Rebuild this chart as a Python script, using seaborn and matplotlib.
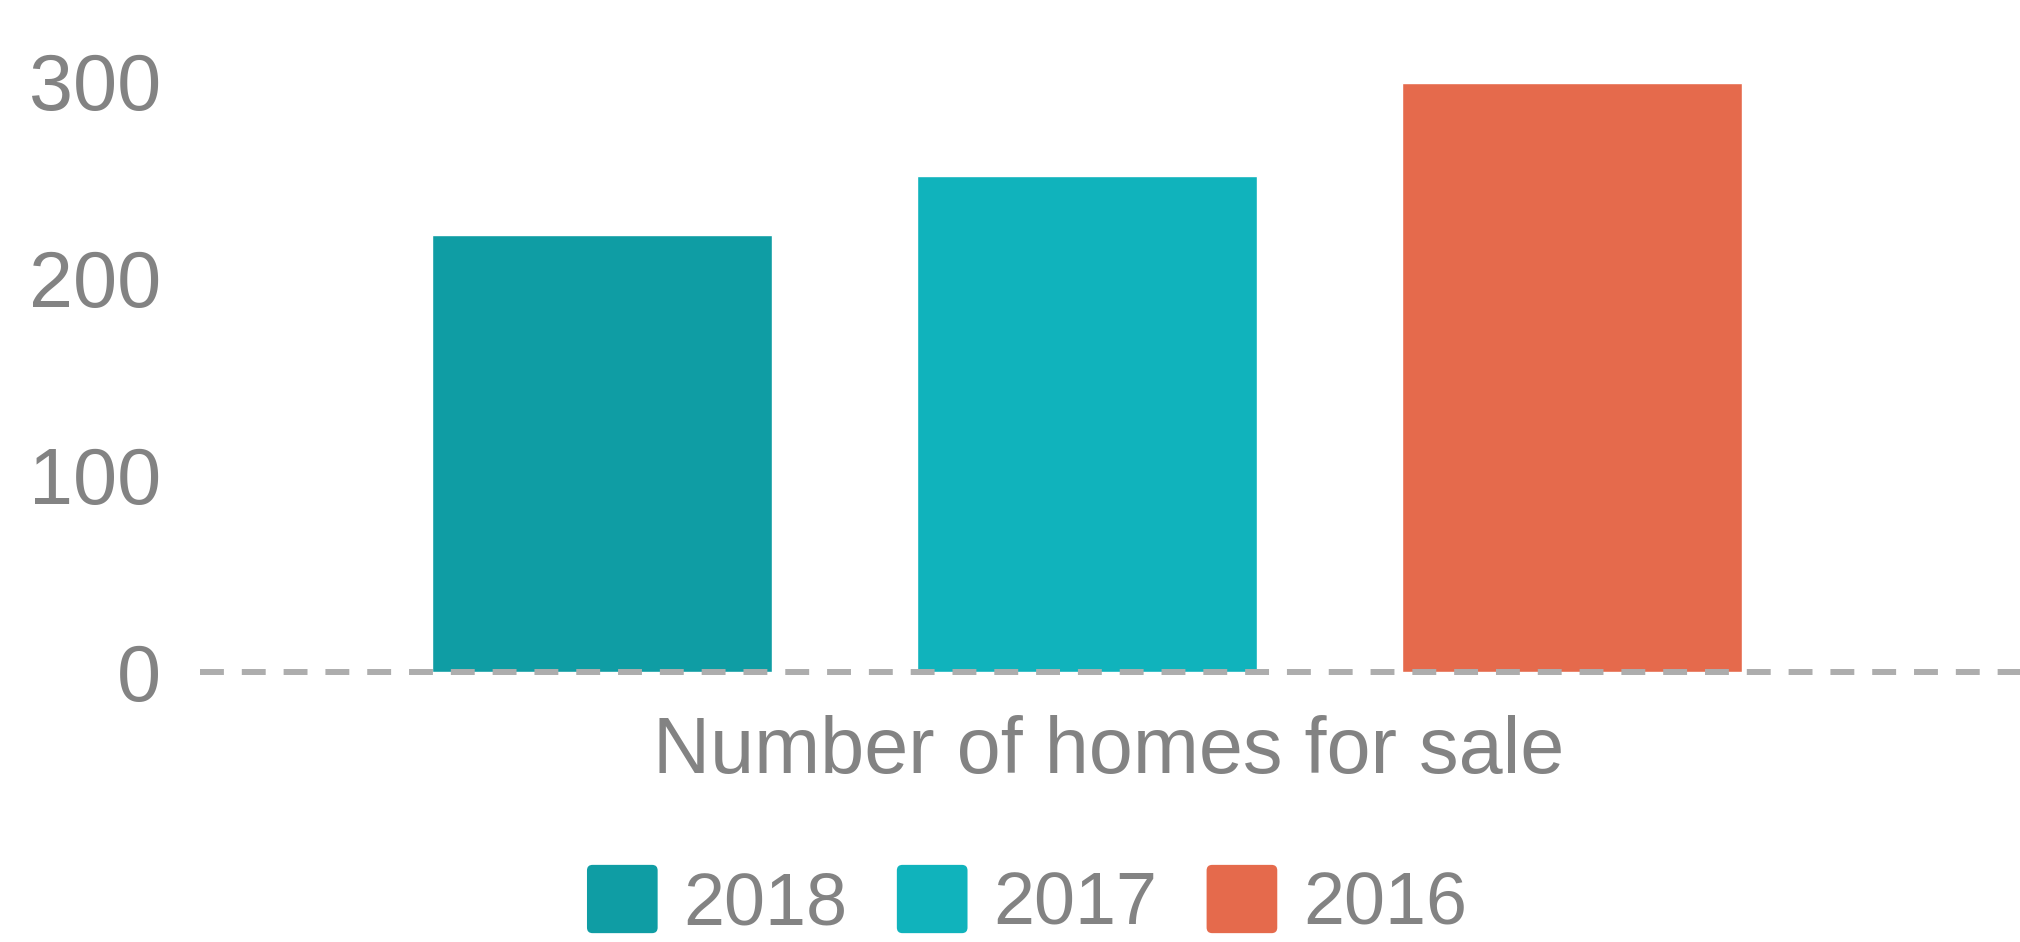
import pandas as pd
import matplotlib.pyplot as plt
import seaborn as sns
from matplotlib.legend_handler import HandlerPatch
from matplotlib.patches import FancyBboxPatch

# data
years = ['2018', '2017', '2016']
homes = [222, 252, 299]
colours = ['#0f9da4', '#10b3bc', '#e56a4c']
yticks = [0, 100, 200, 300]
xlabel = 'Number of homes for sale'

df = pd.DataFrame({'year': years, 'homes': homes})

sns.set_theme(style='white')
plt.rcParams['font.family'] = ['Liberation Sans', 'DejaVu Sans']
grey = '#838383'


# rounded squares for the legend keys
class RoundBox(HandlerPatch):
    def create_artists(self, legend, orig, xd, yd, w, h, fs, trans):
        p = FancyBboxPatch((-xd, -yd), w, h, boxstyle='round,pad=0,rounding_size=4',
                           fc=orig.get_facecolor(), ec='none', transform=trans)
        return [p]


fig = plt.figure(figsize=(20.2, 9.42), dpi=100)
fig.patch.set_facecolor('white')
ax = fig.add_axes([200 / 2020, 0.2866, 1 - 200 / 2020, 0.6274])
ax.set_facecolor('none')

sns.barplot(data=df, x='year', y='homes', hue='year', order=years, hue_order=years,
            palette=colours, width=0.7, saturation=1, ax=ax, legend=True)

ax.set_ylim(0, 300)
ax.set_xlim(-0.829, 2.924)
ax.set_yticks(yticks)
ax.set_xticks([])
ax.set_xlabel('')
ax.set_ylabel('')
sns.despine(ax=ax, left=True, bottom=True)
ax.tick_params(axis='y', length=0, pad=28, labelsize=57, labelcolor=grey)

# dashed zero line on top of the bars
ax.axhline(0, color='#adadad', lw=4.3, ls=(0, (4, 3)), zorder=5, clip_on=False)

fig.text(1109 / 2020, 169 / 942, xlabel, ha='center', va='baseline',
         fontsize=57, color=grey)

handles, labels = ax.get_legend_handles_labels()
ax.get_legend().remove()
fig.legend(handles, labels, loc='center', bbox_to_anchor=(1027 / 2020, 40 / 942),
           ncol=3, frameon=False, fontsize=53, handlelength=0.96, handleheight=1.05,
           handletextpad=0.35, columnspacing=0.67, labelcolor=grey,
           handler_map={plt.Rectangle: RoundBox()})

fig.savefig('out.png', dpi=100)
